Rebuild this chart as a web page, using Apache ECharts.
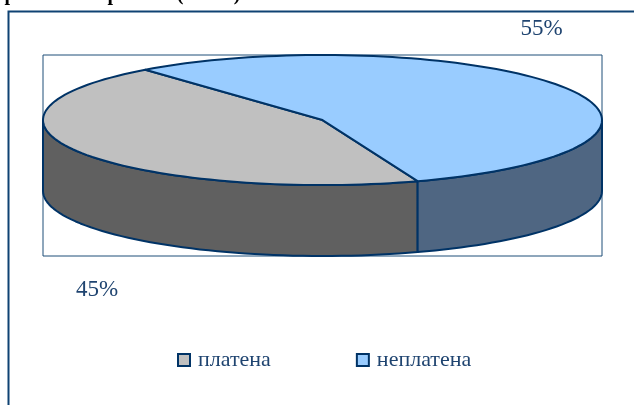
<!DOCTYPE html>
<html>
<head>
<meta charset="utf-8">
<title>Pie</title>
<style>html,body{margin:0;padding:0;background:#fff}#main{width:634px;height:405px}</style>
<script src="https://cdn.jsdelivr.net/npm/echarts@6/dist/echarts.min.js"></script>
</head>
<body>
<div id="main"></div>
<script>
var categories = ['платена', 'неплатена'];
var shares = [44.6, 55.4];
var topColors = ['#C0C0C0', '#99CCFF'];
var sideColors = ['#606060', '#4F6682'];
// what is left of the heading line cut off by the top of the picture
var headingGlyphs = ['р', 'р', '(', ')'];
var headingX = [10, 113, 180, 237];

var ink = '#003366';
var textInk = '#1F4470';
var fontName = '"Liberation Serif", serif';
var depth = 1.09;        // height of the disc, in units of the short radius
var startAngle = 160.1;  // clockwise from 12 o'clock, where the first slice begins

var total = shares.reduce(function (a, b) { return a + b; }, 0);

function pt(api, deg, drop) {
    var r = deg * Math.PI / 180;
    return api.coord([Math.sin(r), Math.cos(r) - (drop || 0)]);
}

function arc(api, from, to, drop) {
    var pts = [];
    var n = Math.max(2, Math.ceil(Math.abs(to - from) / 2));
    for (var i = 0; i <= n; i++) {
        pts.push(pt(api, from + (to - from) * i / n, drop));
    }
    return pts;
}

// the wall only shows on the front half of the ellipse (90..270 degrees)
function wall(api, a1, a2, color) {
    var from = Math.max(a1, 90), to = Math.min(a2, 270);
    if (to <= from) return null;
    var points = arc(api, from, to, 0).concat(arc(api, to, from, depth));
    return {
        type: 'polygon',
        shape: { points: points },
        style: { fill: color, stroke: ink, lineWidth: 2, lineJoin: 'round' }
    };
}

function slice(api, a1, a2, color) {
    var points = [api.coord([0, 0])].concat(arc(api, a1, a2, 0));
    return {
        type: 'polygon',
        shape: { points: points },
        style: { fill: color, stroke: ink, lineWidth: 2, lineJoin: 'round' }
    };
}

// [from, to] angle spans of every slice
var spans = [];
var cursor = startAngle;
shares.forEach(function (v) {
    var sweep = v / total * 360;
    spans.push([cursor, cursor + sweep]);
    cursor += sweep;
});

var series = categories.map(function (name, i) {
    return {
        name: name,
        type: 'custom',
        coordinateSystem: 'cartesian2d',
        itemStyle: { color: topColors[i] },
        z: 2,
        data: [[shares[i]]],
        silent: true,
        renderItem: function (params, api) {
            var kids = [];
            // the second slice wraps past 360, shift it so the wall test sees 90..160
            [0, -360].forEach(function (shift) {
                var w = wall(api, spans[i][0] + shift, spans[i][1] + shift, sideColors[i]);
                if (w) kids.push(w);
            });
            kids.push(slice(api, spans[i][0], spans[i][1], topColors[i]));
            return { type: 'group', children: kids };
        }
    };
});

var headingBits = headingGlyphs.map(function (g, i) {
    return {
        type: 'text', silent: true,
        x: headingX[i], y: 5,
        style: { text: g, fontFamily: fontName, fontWeight: 'bold', fontSize: 20, fill: '#000', align: 'center', verticalAlign: 'bottom' }
    };
});

var chart = echarts.init(document.getElementById('main'), null, { renderer: 'canvas' });
chart.setOption({
    animation: false,
    backgroundColor: '#fff',
    grid: {
        show: true,
        left: 43, top: 55, width: 559, height: 201,
        borderColor: '#1F4E79', borderWidth: 1,
        backgroundColor: 'transparent'
    },
    xAxis: { type: 'value', min: -1, max: 1, show: false },
    yAxis: { type: 'value', min: -1 - depth, max: 1, show: false },
    legend: {
        left: 172, top: 344,
        itemWidth: 12, itemHeight: 12, itemGap: 85,
        icon: 'rect',
        selectedMode: false,
        data: categories,
        itemStyle: { borderColor: ink, borderWidth: 2 },
        textStyle: { fontFamily: fontName, fontSize: 22, color: textInk, padding: [0, 0, 0, 3] }
    },
    graphic: [
        {
            type: 'rect', silent: true, z: 0,
            shape: { x: 8.5, y: 11.5, width: 700, height: 500 },
            style: { fill: 'none', stroke: '#0F4273', lineWidth: 2 }
        },
        {
            type: 'text', silent: true,
            x: 541.5, y: 29,
            style: { text: Math.round(shares[1]) + '%', fontFamily: fontName, fontSize: 23, fill: textInk, align: 'center', verticalAlign: 'middle' }
        },
        {
            type: 'text', silent: true,
            x: 97, y: 290,
            style: { text: Math.round(shares[0]) + '%', fontFamily: fontName, fontSize: 23, fill: textInk, align: 'center', verticalAlign: 'middle' }
        }
    ].concat(headingBits),
    series: series
});
</script>
</body>
</html>
